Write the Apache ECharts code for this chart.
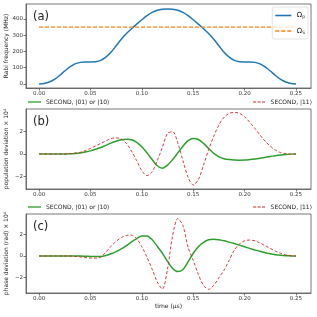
<!DOCTYPE html>
<html><head><meta charset="utf-8">
<script src="https://cdn.jsdelivr.net/npm/echarts@6/dist/echarts.min.js"></script>
<style>html,body{margin:0;padding:0;background:#fff}#c{width:317px;height:317px}</style>
</head><body><div id="c"></div>
<script>
// time samples (μs)
const time = [0,0.005,0.01,0.015,0.02,0.025,0.03,0.035,0.04,0.045,0.05,0.055,0.06,0.065,0.07,0.075,0.08,0.085,0.09,0.095,0.1,0.105,0.11,0.115,0.12,0.125,0.13,0.135,0.14,0.145,0.15,0.155,0.16,0.165,0.17,0.175,0.18,0.185,0.19,0.195,0.2,0.205,0.21,0.215,0.22,0.225,0.23,0.235,0.24,0.245,0.25];
// (a) Rabi frequencies (MHz)
const omegaP = [0,3,12,28,52,80,105,124,133,136,136,137,145,165,195,235,275,310,340,368,395,420,440,453,459,461,459,453,440,420,395,368,340,310,275,235,195,165,145,137,136,136,133,124,105,80,52,28,12,3,0];
const omegaSTime = [0,0.25];
const omegaS = [350,350];
// (b) population deviation x 1e4
const popSingle = [0,0,0,0,0,0,0.02,0.05,0.1,0.18,0.28,0.42,0.58,0.78,0.98,1.15,1.28,1.33,1.28,1.05,0.65,0.1,-0.5,-1.05,-1.28,-1.0,-0.5,0.1,0.7,1.2,1.4,1.3,0.95,0.5,0.05,-0.25,-0.42,-0.5,-0.54,-0.55,-0.54,-0.5,-0.45,-0.38,-0.3,-0.22,-0.15,-0.09,-0.04,-0.01,0];
const popDouble = [0,0,0,0,0,0,0.03,0.08,0.15,0.3,0.5,0.72,0.95,1.18,1.38,1.45,1.35,0.95,0.25,-0.6,-1.5,-1.94,-1.6,-0.6,0.6,1.85,2.0,1.0,-0.6,-2.1,-2.78,-2.3,-1.0,0.4,1.6,2.6,3.3,3.65,3.74,3.65,3.35,2.85,2.3,1.7,1.15,0.7,0.35,0.13,0.03,0,0];
// (c) phase deviation (rad) x 1e4
const phaseSingle = [0,0,0,0,0,0,0,0,0,-0.02,-0.04,-0.05,-0.04,0.05,0.2,0.4,0.65,0.95,1.3,1.6,1.85,1.85,1.5,0.9,0.25,-0.5,-1.15,-1.44,-1.25,-0.55,0.25,0.85,1.25,1.5,1.55,1.5,1.4,1.28,1.15,1.0,0.85,0.7,0.56,0.43,0.3,0.2,0.12,0.06,0.02,0.01,0];
const phaseDouble = [0,0,0,0,0,0,0,-0.03,-0.08,-0.14,-0.19,-0.2,-0.1,0.35,0.9,1.35,1.7,1.9,1.92,1.6,0.85,-0.1,-1.2,-2.4,-3.05,-1.2,1.9,3.45,2.8,0.8,-0.4,-1.7,-2.7,-3.07,-2.7,-2.0,-1.3,-0.4,0.55,1.1,1.4,1.47,1.4,1.2,0.95,0.7,0.45,0.25,0.1,0.03,0];
// tick labels
const xTicks = [0,0.05,0.1,0.15,0.2,0.25];
const yTicksA = [0,100,200,300,400];
const yTicksBC = [-2,0,2];
const nameSingle = 'SECOND, |01\u27E9 or |10\u27E9';
const nameDouble = 'SECOND, |11\u27E9';

const F = 'DejaVu Sans';
const pair = (xs, ys) => xs.map((x, i) => [x, ys[i]]);
const grids = [
  {left: 26, right: 6, top: 4, height: 84},
  {left: 26, right: 6, top: 109, height: 80},
  {left: 26, right: 6, top: 214, height: 79}
].map(g => Object.assign(g, {show: true, borderColor: '#555', borderWidth: 0.8, containLabel: false, outerBoundsMode: 'none'}));

function xAx(i, name) {
  return {
    type: 'value', gridIndex: i, min: -0.0127, max: 0.2646,
    name: name || '', nameLocation: 'middle', nameGap: 10, nameMoveOverlap: false,
    nameTextStyle: {fontFamily: F, fontSize: 6, color: '#222'},
    axisLine: {show: true, onZero: false, lineStyle: {color: '#555', width: 0.8}},
    axisTick: {show: true, length: 2.5, customValues: xTicks, lineStyle: {color: '#555', width: 0.8}},
    axisLabel: {customValues: xTicks, margin: 3, fontFamily: F, fontSize: 5.5, color: '#333', formatter: v => v.toFixed(2)},
    splitLine: {show: false}
  };
}
function yAx(i, min, max, ticks, name) {
  return {
    type: 'value', gridIndex: i, min: min, max: max,
    name: name, nameLocation: 'middle', nameGap: 17, nameMoveOverlap: false,
    nameTextStyle: {fontFamily: F, fontSize: 6, color: '#222'},
    axisLine: {show: true, onZero: false, lineStyle: {color: '#555', width: 0.8}},
    axisTick: {show: true, length: 2.5, customValues: ticks, lineStyle: {color: '#555', width: 0.8}},
    axisLabel: {customValues: ticks, margin: 3, fontFamily: F, fontSize: 5.5, color: '#333', formatter: v => String(Math.round(v)).replace('-', '\u2212')},
    splitLine: {show: false}
  };
}
const green = '#2ca02c', red = '#d62728';
const series = [
  {name: 'Ωp', type: 'line', xAxisIndex: 0, yAxisIndex: 0, data: pair(time, omegaP), smooth: 0.3, showSymbol: false, symbol: 'none', lineStyle: {color: '#1f77b4', width: 1.5}, itemStyle: {color: '#1f77b4'}},
  {name: 'ΩS', type: 'line', xAxisIndex: 0, yAxisIndex: 0, data: pair(omegaSTime, omegaS), showSymbol: false, symbol: 'none', lineStyle: {color: '#ff7f0e', width: 1.2, type: [4, 2]}, itemStyle: {color: '#ff7f0e'}},
  {name: nameSingle, type: 'line', xAxisIndex: 1, yAxisIndex: 1, data: pair(time, popSingle), smooth: 0.3, showSymbol: false, symbol: 'none', lineStyle: {color: green, width: 1.5}, itemStyle: {color: green}, z: 2},
  {name: nameDouble, type: 'line', xAxisIndex: 1, yAxisIndex: 1, data: pair(time, popDouble), smooth: 0.3, showSymbol: false, symbol: 'none', lineStyle: {color: red, width: 0.9, type: [3, 2]}, itemStyle: {color: red}, z: 3},
  {name: nameSingle, type: 'line', xAxisIndex: 2, yAxisIndex: 2, data: pair(time, phaseSingle), smooth: 0.3, showSymbol: false, symbol: 'none', lineStyle: {color: green, width: 1.5}, itemStyle: {color: green}, z: 2},
  {name: nameDouble, type: 'line', xAxisIndex: 2, yAxisIndex: 2, data: pair(time, phaseDouble), smooth: 0.3, showSymbol: false, symbol: 'none', lineStyle: {color: red, width: 0.9, type: [3, 2]}, itemStyle: {color: red}, z: 3}
];
const solidIcon = 'path://M0,0h20v2h-20z';
const dashIcon = 'path://M0,0h5v2h-5z M7.5,0h5v2h-5z M15,0h5v2h-5z';
const legText = {fontFamily: F, fontSize: 6, color: '#222'};
const omegaRich = {fontFamily: F, fontSize: 6.5, color: '#222', rich: {a: {fontFamily: F, fontSize: 7, color: '#222'}, s: {fontFamily: F, fontSize: 4.5, color: '#222', verticalAlign: 'bottom', padding: [3, 0, 0, 0]}}};
const legends = [
  {data: [{name: 'Ωp', icon: solidIcon}, {name: 'ΩS', icon: dashIcon}], orient: 'vertical', right: 9, top: 7, itemWidth: 17, itemHeight: 1.6, itemGap: 8, padding: [5, 3, 4, 3],
   borderColor: '#ddd', borderWidth: 0.8, borderRadius: 2, backgroundColor: 'rgba(255,255,255,0.8)',
   textStyle: omegaRich, formatter: n => '{a|Ω}{s|' + n.slice(1) + '}'},
  {data: [{name: nameSingle, icon: solidIcon}], left: 28, top: 99, itemWidth: 13, itemHeight: 1.8, padding: 0, textStyle: legText},
  {data: [{name: nameDouble, icon: dashIcon}], right: 5, top: 99, itemWidth: 13, itemHeight: 1.2, padding: 0, textStyle: legText},
  {data: [{name: nameSingle, icon: solidIcon}], left: 28, top: 204, itemWidth: 13, itemHeight: 1.8, padding: 0, textStyle: legText},
  {data: [{name: nameDouble, icon: dashIcon}], right: 5, top: 204, itemWidth: 13, itemHeight: 1.2, padding: 0, textStyle: legText}
];
const labels = [['(a)', 11], ['(b)', 116], ['(c)', 221]].map(([t, y]) => ({
  type: 'text', left: 33, top: y, style: {text: t, fontFamily: F, fontSize: 11.5, fill: '#222'}
}));
const chart = echarts.init(document.getElementById('c'), null, {renderer: 'canvas'});
chart.setOption({
  animation: false,
  backgroundColor: '#fff',
  grid: grids,
  xAxis: [xAx(0), xAx(1), xAx(2, 'time (\u03bcs)')],
  yAxis: [
    yAx(0, -24.6, 492, yTicksA, 'Rabi frequency (MHz)'),
    yAx(1, -3.14, 4.04, yTicksBC, 'population deviation \u00d7 10\u2074'),
    yAx(2, -3.41, 3.87, yTicksBC, 'phase deviation (rad) \u00d7 10\u2074')
  ],
  legend: legends,
  graphic: labels,
  series: series
});
</script></body></html>
